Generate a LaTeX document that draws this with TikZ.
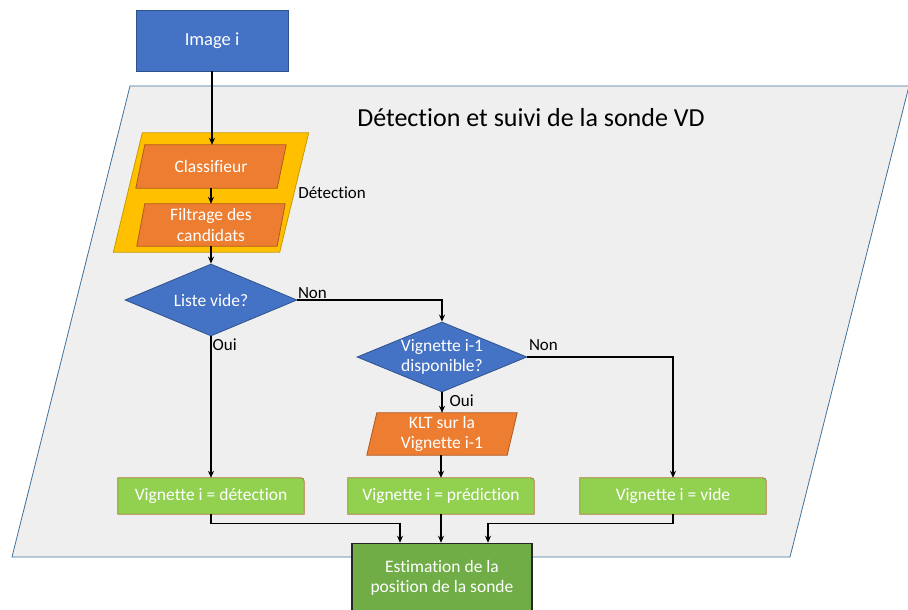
\documentclass[tikz,border=0pt]{standalone}
\usepackage{fontspec}
\setmainfont{Carlito}[Ligatures={NoCommon}]
\usetikzlibrary{shapes.geometric,arrows.meta,calc}
\pgfdeclarelayer{back}
\pgfdeclarelayer{bg}
\pgfsetlayers{back,bg,main}
\definecolor{blueF}{HTML}{4472C4}
\definecolor{blueB}{HTML}{2F528F}
\definecolor{orangeF}{HTML}{ED7D31}
\definecolor{orangeB}{HTML}{AE5A21}
\definecolor{yellowF}{HTML}{FFC000}
\definecolor{yellowB}{HTML}{C99A00}
\definecolor{greenF}{HTML}{92D050}
\definecolor{greenB}{HTML}{B0763A}
\definecolor{darkgreenF}{HTML}{70AD47}
\definecolor{grayF}{HTML}{EFEFEF}
\definecolor{grayB}{HTML}{41719C}
\newcommand\parabg[4]{%
  \begin{pgfonlayer}{bg}
  \draw[fill=#3,draw=#4,line width=0.8pt] ([xshift=#2]#1.north west) -- ([xshift=#2]#1.north east) -- ([xshift=-#2]#1.south east) -- ([xshift=-#2]#1.south west) -- cycle;
  \end{pgfonlayer}}
\newcommand\greenbg[1]{%
  \begin{pgfonlayer}{bg}
  \draw[fill=greenF,draw=greenB,line width=0.8pt] (#1.south west) -- (#1.north west) -- ([xshift=-7pt]#1.north east) .. controls (#1.north east) .. ([yshift=-7pt]#1.north east) -- (#1.south east) -- cycle;
  \end{pgfonlayer}}
\tikzset{
  box/.style={text=white, align=center, font=\fontsize{17.5}{20.5}\selectfont, inner sep=0pt},
  rectbox/.style={box, draw=blueB, fill=blueF, line width=0.8pt},
  paranode/.style={box},
  decision/.style={box, diamond, aspect=2.4, draw=blueB, fill=blueF, line width=0.8pt},
  gbox/.style={box, minimum width=186pt, minimum height=36pt},
  lbl/.style={font=\fontsize{17}{20}\selectfont, text=black, inner sep=1pt},
  arr/.style={-{Stealth[length=7pt,width=6pt]}, line width=1.2pt, black},
  ln/.style={line width=1.2pt, black}
}
\begin{document}
\begin{tikzpicture}[x=1pt,y=-1pt]
\path[use as bounding box] (0,0) rectangle (908,610);
% group parallelogram
\begin{pgfonlayer}{back}
\draw[fill=grayF, draw=grayB, line width=0.8pt] (130,86) -- (909,86) -- (790,557) -- (12,557) -- cycle;
\end{pgfonlayer}
\node[font=\fontsize{26}{30}\selectfont, text=black] (title) at (531,118) {Détection et suivi de la sonde VD};

\node[rectbox, minimum width=152pt, minimum height=61pt, font=\fontsize{18.5}{22}\selectfont] (img) at (212,40.5) {Image i};

\node[paranode, minimum width=166pt, minimum height=119pt] (det) at (211,192.5) {};
\parabg{det}{14.5pt}{yellowF}{yellowB}
\node[paranode, minimum width=141pt, minimum height=43pt] (cls) at (211,166.5) {Classifieur};
\parabg{cls}{4.5pt}{orangeF}{orangeB}
\node[paranode, minimum width=140pt, minimum height=42pt] (filt) at (211,225) {Filtrage des\\candidats};
\parabg{filt}{4pt}{orangeF}{orangeB}
\node[lbl, anchor=west] (detlbl) at ([xshift=3pt,yshift=-0.5pt]det.east) {Détection};

\node[decision, minimum width=172pt, minimum height=72pt] (liste) at (211,300) {Liste vide?};
\node[decision, minimum width=170pt, minimum height=70pt] (vig) at (442,357) {Vignette i-1\\disponible?};

\node[paranode, minimum width=140pt, minimum height=42pt] (klt) at (442,434) {KLT sur la\\Vignette i-1};
\parabg{klt}{5pt}{orangeF}{orangeB}

\node[gbox] (g1) at (211,496) {Vignette i = détection};
\greenbg{g1}
\node[gbox] (g2) at (441,496) {Vignette i = prédiction};
\greenbg{g2}
\node[gbox] (g3) at (673,496) {Vignette i = vide};
\greenbg{g3}

\node[box, draw=black!85, fill=darkgreenF, line width=1.5pt, minimum width=180pt, minimum height=69pt] (est) at (442,578) {Estimation de la\\position de la sonde};

% connectors
\draw[arr] (img.south) -- (img.south |- cls.north);
\draw[arr] (cls.south) -- (cls.south |- filt.north);
\draw[arr] (filt.south) -- (liste.north);
\draw[arr] (liste.east) -| (vig.north) node[pos=0, lbl, anchor=south west, xshift=-1pt] (non1) {Non};
\draw[arr] (liste.south) -- (liste.south |- g1.north) node[pos=0, lbl, anchor=north west, xshift=0pt, yshift=-1pt] (oui1) {Oui};
\draw[arr] (vig.east) -| (g3.north) node[pos=0, lbl, anchor=south west, xshift=0pt, yshift=5pt] (non2) {Non};
\draw[arr] (vig.south) -- (vig.south |- klt.north) node[pos=0, lbl, anchor=north west, xshift=6pt, yshift=-1pt] (oui2) {Oui};
\draw[arr] (klt.south) -- (klt.south -| g2.north) -- (g2.north);
\draw[arr] (g1.south) -- ++(0,9) -| ([xshift=-42pt]est.north);
\draw[arr] (g2.south) -- (g2.south |- est.north);
\draw[arr] (g3.south) -- ++(0,9) -| ([xshift=46pt]est.north);
\end{tikzpicture}
\end{document}
